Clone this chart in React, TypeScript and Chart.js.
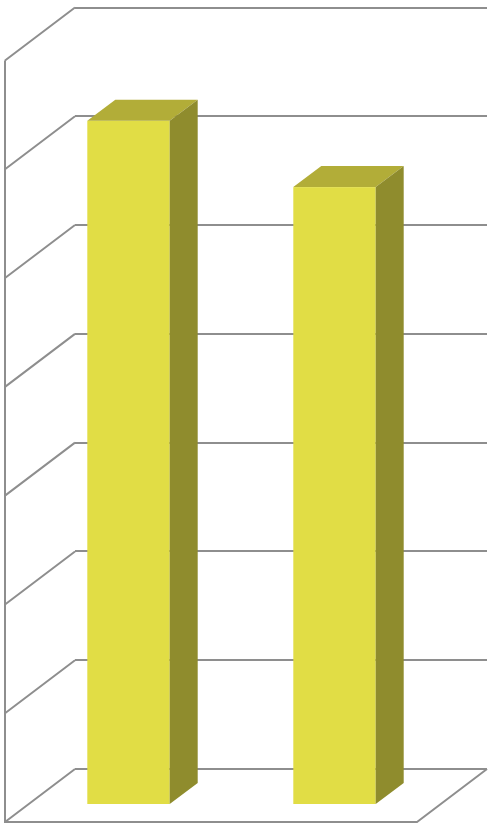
import { useEffect, useRef } from "react";
import { Chart, registerables } from "chart.js";

const categories = ["A", "B"];
const values = [6.29, 5.68];
const yMax = 7;

// projection of the 3D box (pixels)
const WALL_DX = 70;
const WALL_DY = 53;
const BAR_FRONT_DX = 49.5;
const BAR_FRONT_DY = 36;
const BAR_DEPTH_DX = 28;
const BAR_DEPTH_DY = 21;

const GRID = "#8e8e8e";
const FRONT = "#e1dd45";
const TOP = "#b2ad38";
const SIDE = "#8f8c2d";

const threeD = {
  id: "threeD",
  beforeDatasetsDraw(chart: any) {
    const { ctx, chartArea, scales } = chart;
    const y = scales.y;
    const { left, right, bottom } = chartArea;
    ctx.save();
    ctx.strokeStyle = GRID;
    ctx.lineWidth = 2;
    ctx.beginPath();
    // left wall diagonals
    y.ticks.forEach((t: any) => {
      const py = y.getPixelForValue(t.value);
      ctx.moveTo(left, py);
      ctx.lineTo(left - WALL_DX, py + WALL_DY);
    });
    // left wall front edge
    ctx.moveTo(left - WALL_DX, y.getPixelForValue(yMax) + WALL_DY);
    ctx.lineTo(left - WALL_DX, bottom + WALL_DY);
    // floor front + right edge
    ctx.lineTo(right - WALL_DX, bottom + WALL_DY);
    ctx.lineTo(right, bottom);
    ctx.stroke();
    ctx.restore();
  },
  afterDatasetsDraw(chart: any) {
    const { ctx } = chart;
    const meta = chart.getDatasetMeta(0);
    ctx.save();
    meta.data.forEach((bar: any) => {
      const { x, y, base, width } = bar.getProps(["x", "y", "base", "width"], true);
      const l = x - width / 2 - BAR_FRONT_DX;
      const r = x + width / 2 - BAR_FRONT_DX;
      const t = y + BAR_FRONT_DY;
      const b = base + BAR_FRONT_DY;
      // front
      ctx.fillStyle = FRONT;
      ctx.fillRect(l, t, r - l, b - t);
      // top
      ctx.fillStyle = TOP;
      ctx.beginPath();
      ctx.moveTo(l, t);
      ctx.lineTo(r, t);
      ctx.lineTo(r + BAR_DEPTH_DX, t - BAR_DEPTH_DY);
      ctx.lineTo(l + BAR_DEPTH_DX, t - BAR_DEPTH_DY);
      ctx.closePath();
      ctx.fill();
      // side
      ctx.fillStyle = SIDE;
      ctx.beginPath();
      ctx.moveTo(r, t);
      ctx.lineTo(r + BAR_DEPTH_DX, t - BAR_DEPTH_DY);
      ctx.lineTo(r + BAR_DEPTH_DX, b - BAR_DEPTH_DY);
      ctx.lineTo(r, b);
      ctx.closePath();
      ctx.fill();
    });
    ctx.restore();
  },
};

export default function App() {
  const canvasRef = useRef<HTMLCanvasElement>(null);

  useEffect(() => {
    const ctx = canvasRef.current!.getContext("2d")!;
    Chart.register(...registerables);

    const chart = new Chart(ctx, {
      type: "bar",
      data: {
        labels: categories,
        datasets: [
          {
            data: values,
            backgroundColor: "rgba(0,0,0,0)",
            borderWidth: 0,
            categoryPercentage: 0.8,
            barPercentage: 0.5,
          },
        ],
      },
      options: {
        responsive: true,
        maintainAspectRatio: false,
        animation: false,
        events: [],
        layout: { padding: { left: 75, top: 7.5, right: 8, bottom: 58 } },
        plugins: {
          legend: { display: false },
          tooltip: { enabled: false },
        },
        scales: {
          x: { display: false },
          y: {
            min: 0,
            max: yMax,
            ticks: { display: false, stepSize: 1 },
            grid: { color: GRID, lineWidth: 2, drawTicks: false },
            border: { display: false },
          },
        },
      },
      plugins: [threeD],
    });

    return () => {
      chart.destroy();
    };
  }, []);

  return (
    <div style={{ position: "fixed", left: 0, top: 0, width: 495, height: 827, background: "#fff" }}>
      <canvas ref={canvasRef} />
    </div>
  );
}
